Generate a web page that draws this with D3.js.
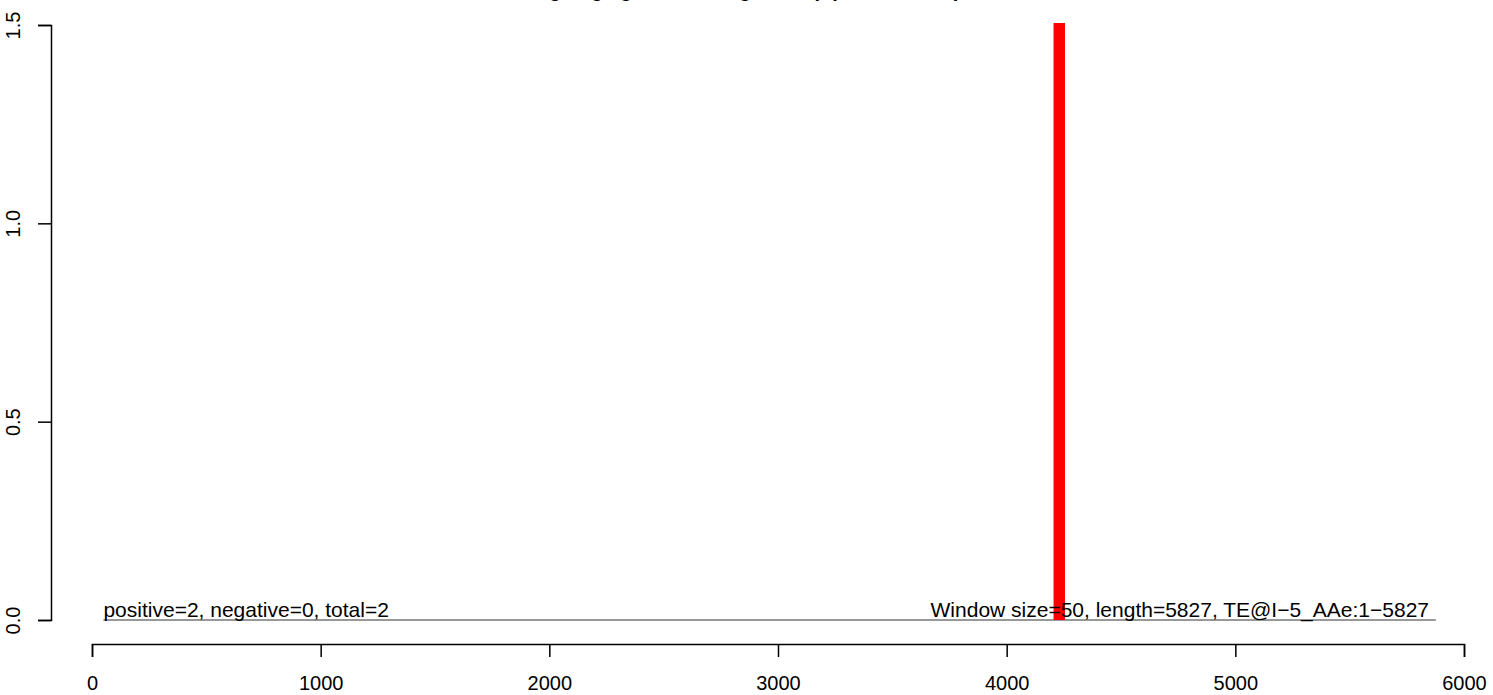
<!DOCTYPE html>
<html><head><meta charset="utf-8">
<script src="https://cdn.jsdelivr.net/npm/d3@7"></script>
<style>body{margin:0;background:#fff}svg{display:block}text{font-family:"Liberation Sans",Arial,sans-serif}</style>
</head><body>
<script>
const xTicks = [0, 1000, 2000, 3000, 4000, 5000, 6000];
const yTicks = [0, 0.5, 1.0, 1.5];
const yTickLabels = ["0.0", "0.5", "1.0", "1.5"];
const windowStarts = [4205];
const positiveCounts = [2];
const windowSize = 50;
const seqLength = 5827;
const titleText = "Reads aligning against TE: signal map per window, positive strand";
const leftNote = "positive=2, negative=0, total=2";
const rightNote = "Window size=50, length=5827, TE@I\u22125_AAe:1\u22125827";

const W = 1493, H = 695;
const svg = d3.select("body").append("svg").attr("width", W).attr("height", H);
const x = d3.scaleLinear().domain([0, 6000]).range([92, 1464]);
const y = d3.scaleLinear().domain([0, 1.5]).range([620, 25]);

svg.append("defs").append("clipPath").attr("id", "clip")
  .append("rect").attr("x", 60).attr("y", 23).attr("width", 1420).attr("height", 620);

// title (cut off at top, as in the original)
svg.append("text").attr("x", 778).attr("y", -3).attr("text-anchor", "middle")
  .attr("font-size", 20).attr("font-weight", "bold").text(titleText);

// baseline
svg.append("line").attr("x1", x(windowSize)).attr("x2", x(seqLength + windowSize))
  .attr("y1", y(0)).attr("y2", y(0)).attr("stroke", "#333").attr("stroke-width", 1);

// bars
svg.append("g").attr("clip-path", "url(#clip)").selectAll("rect")
  .data(windowStarts.map((s, i) => ({s, v: positiveCounts[i]})))
  .join("rect")
  .attr("x", d => x(d.s)).attr("width", d => x(d.s + windowSize) - x(d.s))
  .attr("y", d => y(d.v)).attr("height", d => y(0) - y(d.v))
  .attr("fill", "#ff0000");

// notes
svg.append("text").attr("x", x(windowSize)).attr("y", 617).attr("font-size", 21).text(leftNote);
svg.append("text").attr("x", 1429).attr("y", 617).attr("text-anchor", "end").attr("font-size", 21).text(rightNote);

// y axis
const ya = svg.append("g").attr("transform", "translate(51,0)")
  .call(d3.axisLeft(y).tickValues(yTicks).tickSize(13).tickPadding(0).tickFormat((d, i) => yTickLabels[i]));
ya.attr("font-family", null);
ya.select(".domain").attr("stroke", "#000").attr("stroke-width", 1.5);
ya.selectAll(".tick line").attr("stroke", "#000").attr("stroke-width", 1.5);
ya.selectAll(".tick text").attr("font-size", 20).attr("fill", "#000")
  .attr("transform", "rotate(-90)").attr("text-anchor", "middle").attr("dy", 0)
  .attr("x", 0).attr("y", -31);

// x axis
const xa = svg.append("g").attr("transform", "translate(0,644)")
  .call(d3.axisBottom(x).tickValues(xTicks).tickSize(13).tickPadding(0).tickFormat(d3.format("d")));
xa.attr("font-family", null);
xa.select(".domain").attr("stroke", "#000").attr("stroke-width", 1.5);
xa.selectAll(".tick line").attr("stroke", "#000").attr("stroke-width", 1.5);
xa.selectAll(".tick text").attr("font-size", 20).attr("fill", "#000").attr("dy", 0).attr("y", 46);
</script>
</body></html>
